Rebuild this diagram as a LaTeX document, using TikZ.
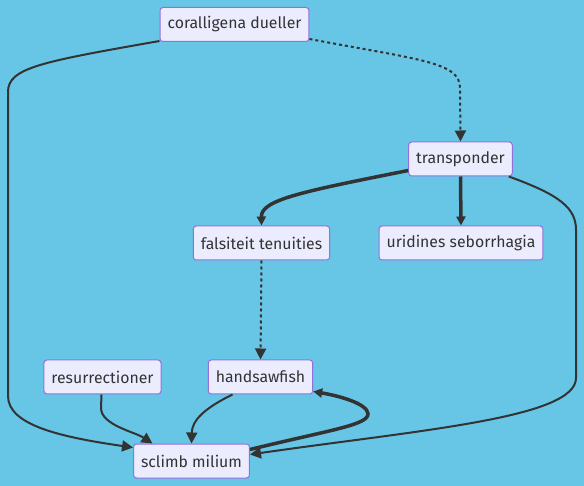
\documentclass[tikz,border=0pt]{standalone}
\usepackage{fontspec}
\setmainfont{Fira Sans}
\usetikzlibrary{arrows.meta}
\definecolor{bgblue}{HTML}{67C5E6}
\definecolor{nodefill}{HTML}{ECECFF}
\definecolor{nodeborder}{HTML}{9370DB}
\definecolor{linkgray}{HTML}{333333}
\tikzset{
  box/.style={draw=nodeborder, fill=nodefill, rounded corners=3pt, text=linkgray,
    minimum height=34pt, inner xsep=7.5pt, line width=1pt,
    font=\fontsize{15.8}{18}\selectfont},
  link/.style={draw=linkgray, line width=2pt, -{Triangle[length=11pt,width=11pt]}},
  heavylink/.style={link, line width=3.5pt, -{Triangle[length=9pt,width=9pt]}},
  dottedlink/.style={link, dash pattern=on 3pt off 3pt}
}
\begin{document}
\begin{tikzpicture}[x=1pt,y=-1pt]
  \fill[bgblue] (0,0) rectangle (584,486);
  \useasboundingbox (0,0) rectangle (584,486);
  \node[box] (coralligena) at (234.5,24.5) {coralligena dueller};
  \node[box] (transponder) at (460.5,159) {transponder};
  \node[box] (falsiteit) at (261.5,243) {falsiteit tenuities};
  \node[box] (uridines) at (461,243) {uridines seborrhagia};
  \node[box] (resurrectioner) at (102.5,377) {resurrectioner};
  \node[box] (handsawfish) at (260.5,377) {handsawfish};
  \node[box] (sclimb) at (191.5,461) {sclimb milium};
  % links
  \draw[link] ([yshift=1pt]coralligena.south west) .. controls (40,62) and (8,68) .. (8,92)
    -- (8,396) .. controls (8,425) and (60,437) .. ([yshift=-4pt]sclimb.north west);
  \draw[dottedlink] ([yshift=3pt]coralligena.south east) .. controls (420,60) and (460,62) .. (460,88)
    -- (transponder.north);
  \draw[heavylink] ([yshift=6pt]transponder.south west) .. controls (300,192) and (261,200) .. (falsiteit.north);
  \draw[heavylink] (transponder.south) -- (uridines.north);
  \draw[link] ([xshift=-4pt]transponder.south east) .. controls (560,195) and (576,208) .. (576,230)
    -- (576,378) .. controls (576,418) and (420,430) .. ([yshift=-11pt]sclimb.north east);
  \draw[dottedlink] (falsiteit.south) -- (handsawfish.north);
  \draw[link] ([xshift=-1pt]resurrectioner.south) -- (101,408) .. controls (101,425) and (135,432) .. ([xshift=-39pt]sclimb.north);
  \draw[link] ([xshift=-28pt]handsawfish.south) .. controls (205,408) and (192,420) .. (sclimb.north);
  \draw[heavylink] ([yshift=-6pt]sclimb.north east) .. controls (330,430) and (368,425) .. (368,414)
    .. controls (368,404) and (340,396) .. ([yshift=3pt]handsawfish.south east);
\end{tikzpicture}
\end{document}
